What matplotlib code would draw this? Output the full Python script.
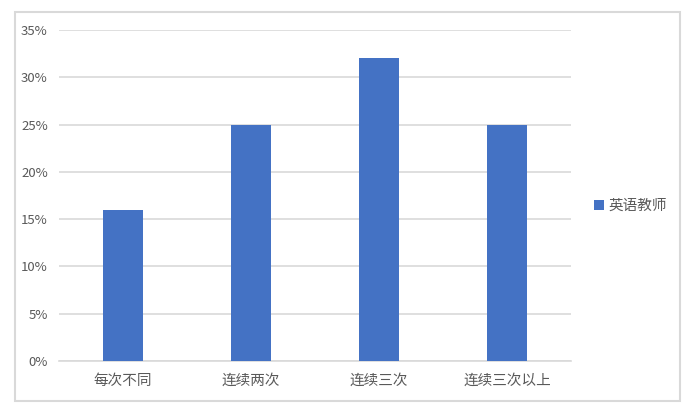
import matplotlib.pyplot as plt
from matplotlib.patches import Rectangle
from matplotlib.ticker import FuncFormatter

plt.rcParams['font.family'] = ['Noto Sans CJK SC', 'DejaVu Sans']

categories = ['每次不同', '连续两次', '连续三次', '连续三次以上']
teacher_pct = [16, 25, 32, 25]
series_name = '英语教师'
y_ticks = [0, 5, 10, 15, 20, 25, 30, 35]

W, H = 694, 415
fig = plt.figure(figsize=(W / 100, H / 100), dpi=100)

# outer chart-area border
fig.patches.append(Rectangle((14.5 / W, 1 - 400.5 / H), 665 / W, 388 / H,
                             transform=fig.transFigure, fill=False,
                             edgecolor='#D9D9D9', linewidth=1.5))

ax = fig.add_axes([59 / W, 1 - 361 / H, 512 / W, 331 / H])
x = range(len(categories))
ax.bar(x, teacher_pct, width=0.3125, color='#4472C4', label=series_name, zorder=3)

ax.set_xlim(-0.5, len(categories) - 0.5)
ax.set_ylim(0, 35)
ax.set_yticks(y_ticks)
ax.yaxis.set_major_formatter(FuncFormatter(lambda v, p: f'{v:.0f}%'))
ax.set_xticks(list(x))
ax.set_xticklabels(categories, fontsize=10.5)

ax.grid(axis='y', color='#D9D9D9', linewidth=1.2, zorder=0)
for s in ['top', 'right', 'left']:
    ax.spines[s].set_visible(False)
ax.spines['bottom'].set_color('#D9D9D9')
ax.spines['bottom'].set_linewidth(1.2)
ax.tick_params(axis='both', length=0, colors='#595959')
ax.tick_params(axis='y', pad=8, labelsize=9.5)
ax.tick_params(axis='x', pad=9)

fig.legend(loc='center left', bbox_to_anchor=(581 / W, 1 - 206 / H),
           frameon=False, fontsize=10.5, labelcolor='#595959',
           handlelength=0.65, handleheight=0.65, handletextpad=0.35)

fig.savefig('out.png', dpi=100)
